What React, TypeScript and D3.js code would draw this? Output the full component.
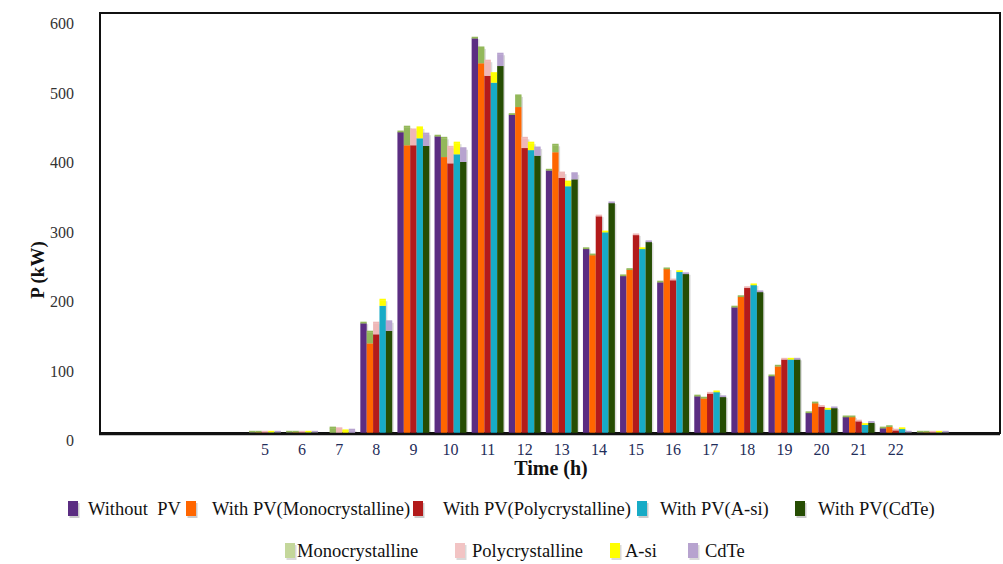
import React from "react";
import * as d3 from "d3";

const hours = d3.range(1, 25).map(String);
const tickLabels = ["5","6","7","8","9","10","11","12","13","14","15","16","17","18","19","20","21","22"];
const yTicks = [0, 100, 200, 300, 400, 500, 600];

const withoutPV = [0,0,0,0,1,1,0,158,433,427,568,458,378,265,226,217,53,181,82,29,23,7,1,0];
const withPVMono = [0,0,0,0,1,1,0,129,414,397,532,469,404,256,235,236,50,196,96,43,23,9,1,0];
const withPVPoly = [0,0,0,0,1,1,0,142,414,388,514,410,367,312,285,220,57,209,106,38,17,4,1,0];
const withPVAsi = [0,0,0,0,1,1,0,183,424,401,504,407,355,289,265,232,59,213,106,34,12,6,1,0];
const withPVCdte = [0,0,0,0,1,1,0,147,413,390,528,399,365,331,275,229,52,203,106,36,15,1,1,0];

const pvMono = [0,0,0,0,0,0,7,16,26,27,22,16,10,0,0,0,0,0,0,0,0,0,0,0];
const pvPoly = [0,0,0,0,0,0,6,16,22,23,21,14,7,0,0,0,0,0,0,0,0,0,0,0];
const pvAsi = [0,0,0,0,0,0,3,8,15,16,13,10,6,0,0,0,0,0,0,0,0,0,0,0];
const pvCdte = [0,0,0,0,0,0,4,13,17,19,17,11,8,0,0,0,0,0,0,0,0,0,0,0];

const baseNames = ["Without\u00a0 PV", "With PV(Monocrystalline)", "With PV(Polycrystalline)", "With PV(A-si)", "With PV(CdTe)"];
const pvNames = ["Monocrystalline", "Polycrystalline", "A-si", "CdTe"];

const baseColors = ["#5b2d82", "#ff6600", "#b31b1b", "#17abc6", "#264d03"];
const pvColors = ["#93b85a", "#efb7b7", "#ffff00", "#b7a3cf"];
const pvLegendColors = ["#c4d79b", "#f2c4c4", "#ffff00", "#b7a3cf"];
const capColors = ["#93b85a", "#93b85a", "#efb7b7", "#ffff00", "#b7a3cf"];

const baseSeries = [withoutPV, withPVMono, withPVPoly, withPVAsi, withPVCdte];
const pvSeries = [null, pvMono, pvPoly, pvAsi, pvCdte];

export default function App() {
  const W = 1003, H = 564;
  const x = d3.scaleBand<string>().domain(hours).range([98, 988.5]).paddingInner(0.14).paddingOuter(0.07);
  const inner = d3.scaleBand<number>().domain([0, 1, 2, 3, 4]).range([0, x.bandwidth()]);
  const y = d3.scaleLinear().domain([0, 600]).range([433, 16]);
  const serif = "\"Liberation Serif\", \"Times New Roman\", serif";

  const bars: React.ReactNode[] = [];
  hours.forEach((h, hi) => {
    baseSeries.forEach((s, si) => {
      const v = s[hi];
      const pv = pvSeries[si] ? (pvSeries[si] as number[])[hi] : 0;
      const total = v + pv;
      if (total <= 0) return;
      const bx = (x(h) as number) + (inner(si) as number);
      const bw = inner.bandwidth();
      const yTop = y(total);
      bars.push(
        <rect key={`sh-${hi}-${si}`} x={bx + 1.5} y={yTop + 1} width={bw} height={y(0) - yTop} fill="#000" opacity={0.14} />
      );
      bars.push(
        <rect key={`b-${hi}-${si}`} x={bx} y={y(v)} width={bw} height={y(0) - y(v)} fill={baseColors[si]} />
      );
      if (pv > 0) {
        bars.push(
          <rect key={`p-${hi}-${si}`} x={bx} y={y(total)} width={bw} height={y(v) - y(total)} fill={pvColors[si - 1]} />
        );
      }
      bars.push(
        <rect key={`c-${hi}-${si}`} x={bx} y={yTop - 1.5} width={bw} height={1.8} fill={capColors[si]} />
      );
    });
  });

  const row1 = [
    { sx: 68, tx: 88 },
    { sx: 186, tx: 212 },
    { sx: 413, tx: 443 },
    { sx: 637, tx: 660 },
    { sx: 795, tx: 818 },
  ];
  const row2 = [
    { sx: 285, tx: 297 },
    { sx: 455, tx: 472 },
    { sx: 610, tx: 625 },
    { sx: 688, tx: 705 },
  ];

  return (
    <svg width={W} height={H} style={{ position: "absolute", left: 0, top: 0, background: "#fff", fontFamily: serif }}>
      <rect x={0} y={0} width={W} height={H} fill="#fff" />
      <rect x={100} y={13} width={900} height={420} fill="#fff" stroke="#111" strokeWidth={2} />
      {bars}
      <line x1={99} x2={1000} y1={434} y2={434} stroke="#111" strokeWidth={2.5} />
      {yTicks.map((t) => (
        <text key={t} x={74} y={y(t) + 13} textAnchor="end" style={{ fontFamily: serif }} fontSize={16} fill="#333">{t}</text>
      ))}
      {tickLabels.map((t) => (
        <text key={t} x={(x(t) as number) + x.bandwidth() / 2} y={455} textAnchor="middle" style={{ fontFamily: serif }} fontSize={16} fill="#1f2d5a">{t}</text>
      ))}
      <text transform="translate(44,270) rotate(-90)" textAnchor="middle" style={{ fontFamily: serif }} fontSize={19} fontWeight="bold" fill="#111">P (kW)</text>
      <text x={551} y={475} textAnchor="middle" style={{ fontFamily: serif }} fontSize={20} fontWeight="bold" fill="#111">Time (h)</text>
      {baseNames.map((n, i) => (
        <g key={n}>
          <rect x={row1[i].sx + 1.5} y={503} width={10} height={15} fill="#000" opacity={0.2} />
          <rect x={row1[i].sx} y={501} width={10} height={15} fill={baseColors[i]} />
          <text x={row1[i].tx} y={515} style={{ fontFamily: serif }} fontSize={18.5} fill="#111">{n}</text>
        </g>
      ))}
      {pvNames.map((n, i) => (
        <g key={n}>
          <rect x={row2[i].sx + 1.5} y={545} width={10} height={15} fill="#000" opacity={0.15} />
          <rect x={row2[i].sx} y={543} width={10} height={15} fill={pvLegendColors[i]} />
          <text x={row2[i].tx} y={557} style={{ fontFamily: serif }} fontSize={18.5} fill="#111">{n}</text>
        </g>
      ))}
    </svg>
  );
}
